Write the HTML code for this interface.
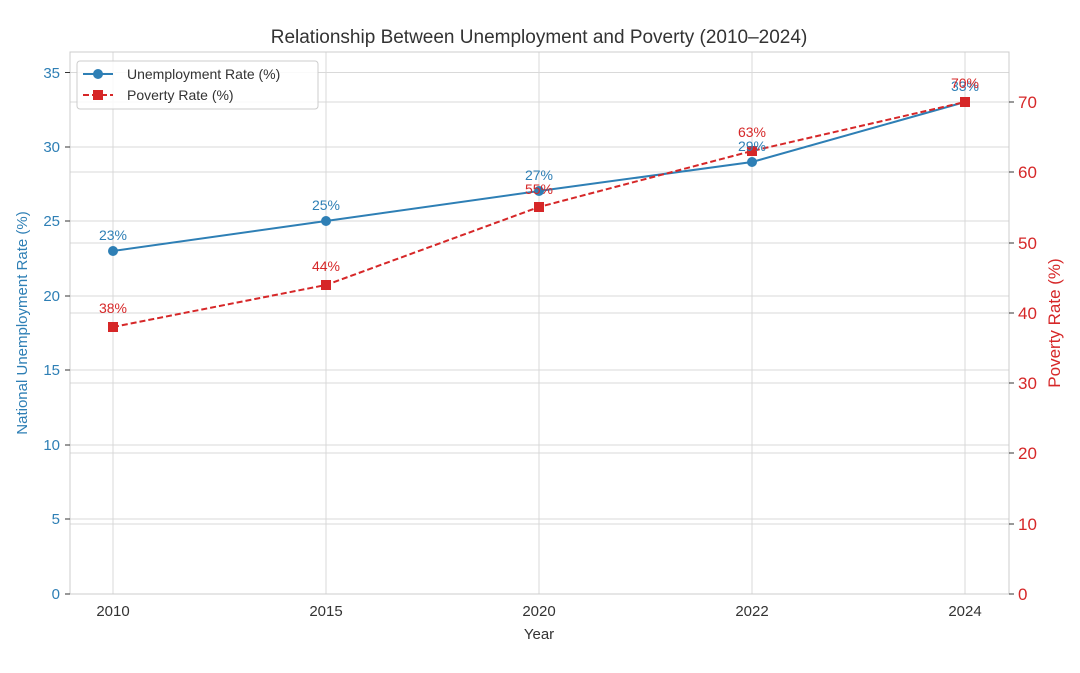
<!DOCTYPE html><html><head><meta charset="utf-8"><style>body{margin:0;background:#fff}</style></head><body>
<svg width="1080" height="668" xmlns="http://www.w3.org/2000/svg" font-family="Liberation Sans, DejaVu Sans, sans-serif">
<rect width="1080" height="668" fill="#fff"/>
<g stroke="#d9d9d9" stroke-width="1">
<line x1="113" y1="52" x2="113" y2="594"/><line x1="326" y1="52" x2="326" y2="594"/><line x1="539" y1="52" x2="539" y2="594"/><line x1="752" y1="52" x2="752" y2="594"/><line x1="965" y1="52" x2="965" y2="594"/>
<line x1="70" y1="72.5" x2="1009" y2="72.5"/><line x1="70" y1="147" x2="1009" y2="147"/><line x1="70" y1="221" x2="1009" y2="221"/><line x1="70" y1="296" x2="1009" y2="296"/><line x1="70" y1="370" x2="1009" y2="370"/><line x1="70" y1="445" x2="1009" y2="445"/><line x1="70" y1="519" x2="1009" y2="519"/>
<line x1="70" y1="102" x2="1009" y2="102"/><line x1="70" y1="172" x2="1009" y2="172"/><line x1="70" y1="243" x2="1009" y2="243"/><line x1="70" y1="313" x2="1009" y2="313"/><line x1="70" y1="383" x2="1009" y2="383"/><line x1="70" y1="453" x2="1009" y2="453"/><line x1="70" y1="524" x2="1009" y2="524"/>
</g>
<rect x="70" y="52" width="939" height="542" fill="none" stroke="#cccccc"/>
<g stroke="#333" stroke-width="1">
<line x1="65" y1="594" x2="70" y2="594"/><line x1="65" y1="519" x2="70" y2="519"/><line x1="65" y1="445" x2="70" y2="445"/><line x1="65" y1="370" x2="70" y2="370"/><line x1="65" y1="296" x2="70" y2="296"/><line x1="65" y1="221" x2="70" y2="221"/><line x1="65" y1="147" x2="70" y2="147"/><line x1="65" y1="72.5" x2="70" y2="72.5"/>
<line x1="1009" y1="594" x2="1014" y2="594"/><line x1="1009" y1="524" x2="1014" y2="524"/><line x1="1009" y1="453" x2="1014" y2="453"/><line x1="1009" y1="383" x2="1014" y2="383"/><line x1="1009" y1="313" x2="1014" y2="313"/><line x1="1009" y1="243" x2="1014" y2="243"/><line x1="1009" y1="172" x2="1014" y2="172"/><line x1="1009" y1="102" x2="1014" y2="102"/>
</g>
<g fill="#2e7fb5" font-size="15" text-anchor="end">
<text x="60" y="599">0</text><text x="60" y="524">5</text><text x="60" y="450">10</text><text x="60" y="375">15</text><text x="60" y="301">20</text><text x="60" y="226">25</text><text x="60" y="152">30</text><text x="60" y="78">35</text>
</g>
<g fill="#d62728" font-size="17">
<text x="1018" y="600">0</text><text x="1018" y="530">10</text><text x="1018" y="459">20</text><text x="1018" y="389">30</text><text x="1018" y="319">40</text><text x="1018" y="249">50</text><text x="1018" y="178">60</text><text x="1018" y="108">70</text>
</g>
<g fill="#333" font-size="15" text-anchor="middle">
<text x="113" y="616">2010</text><text x="326" y="616">2015</text><text x="539" y="616">2020</text><text x="752" y="616">2022</text><text x="965" y="616">2024</text>
<text x="539" y="639">Year</text>
<text x="539" y="43" font-size="19">Relationship Between Unemployment and Poverty (2010–2024)</text>
</g>
<text transform="translate(27,323) rotate(-90)" fill="#2e7fb5" font-size="15" text-anchor="middle">National Unemployment Rate (%)</text>
<text transform="translate(1060,323) rotate(-90)" fill="#d62728" font-size="17" text-anchor="middle">Poverty Rate (%)</text>
<polyline points="113,251 326,221 539,191 752,162 965,102" fill="none" stroke="#2e7fb5" stroke-width="2"/>
<g fill="#2e7fb5"><circle cx="113" cy="251" r="5"/><circle cx="326" cy="221" r="5"/><circle cx="539" cy="191" r="5"/><circle cx="752" cy="162" r="5"/><circle cx="965" cy="102" r="5"/></g>
<polyline points="113,327 326,285 539,207 752,151 965,102" fill="none" stroke="#d62728" stroke-width="2" stroke-dasharray="6,3"/>
<g fill="#d62728"><rect x="108" y="322" width="10" height="10"/><rect x="321" y="280" width="10" height="10"/><rect x="534" y="202" width="10" height="10"/><rect x="747" y="146" width="10" height="10"/><rect x="960" y="97" width="10" height="10"/></g>
<g fill="#2e7fb5" font-size="14" text-anchor="middle">
<text x="113" y="240">23%</text><text x="326" y="210">25%</text><text x="539" y="180">27%</text><text x="752" y="151">29%</text><text x="965" y="91">33%</text>
</g>
<g fill="#d62728" font-size="14" text-anchor="middle">
<text x="113" y="313">38%</text><text x="326" y="271">44%</text><text x="539" y="194">55%</text><text x="752" y="137">63%</text><text x="965" y="88">70%</text>
</g>
<rect x="77" y="61" width="241" height="48" rx="3" fill="#fff" fill-opacity="0.85" stroke="#ccc"/>
<line x1="83" y1="74" x2="113" y2="74" stroke="#2e7fb5" stroke-width="2"/><circle cx="98" cy="74" r="5" fill="#2e7fb5"/>
<line x1="83" y1="95" x2="113" y2="95" stroke="#d62728" stroke-width="2" stroke-dasharray="6,3"/><rect x="93" y="90" width="10" height="10" fill="#d62728"/>
<text x="127" y="79" font-size="14" fill="#333">Unemployment Rate (%)</text>
<text x="127" y="100" font-size="14" fill="#333">Poverty Rate (%)</text>
</svg>
</body></html>
